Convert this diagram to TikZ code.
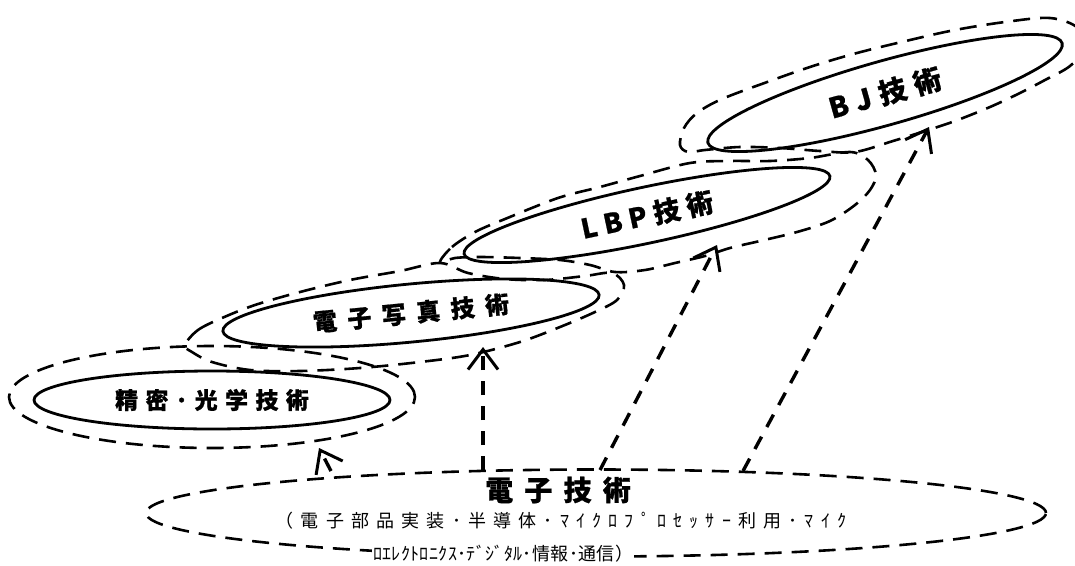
\documentclass[tikz,border=0pt]{standalone}
\usepackage{fontspec}
\newfontfamily\jpa{Noto Sans CJK JP}[LetterSpace=32,FakeBold=0.8]
\newfontfamily\jpb{Noto Sans CJK JP}[LetterSpace=44,FakeBold=0.8]
\newfontfamily\jpc{Noto Sans CJK JP}[LetterSpace=25,FakeBold=0.8]
\newfontfamily\jpd{Noto Sans CJK JP}[LetterSpace=29,FakeBold=0.8]
\newfontfamily\jpe{Noto Sans CJK JP}[LetterSpace=40,FakeBold=0.8]
\newfontfamily\jpf{Noto Sans CJK JP}[LetterSpace=40]
\newfontfamily\jpg{Noto Sans CJK JP}[LetterSpace=2]
\usetikzlibrary{shapes.geometric,arrows.meta}
\begin{document}
\begin{tikzpicture}[x=1pt,y=-1pt,
  solidell/.style={ellipse,draw,line width=2.8pt,inner sep=0pt},
  outerell/.style={ellipse,draw,line width=2.6pt,dash pattern=on 17pt off 10pt,inner sep=0pt},
  outerloop/.style={draw,line width=2.6pt,dash pattern=on 17pt off 10pt},
  arr/.style={line width=3.4pt,dash pattern=on 14pt off 11pt,
    -{Straight Barb[length=20pt,width=30pt,line width=3pt]}},
  lbl/.style={inner sep=0pt,font=\bfseries}]
\useasboundingbox (0,0) rectangle (1075,565);
% base (electronics) loop
\node[outerell,minimum width=900,minimum height=87] (base) at (596,513) {};
% outer loops
\node[outerell,minimum width=406,minimum height=102] (o1) at (212,397) {};
\draw[outerloop] plot[smooth cycle,tension=0.55] coordinates {
  (185,345) (198,330) (222,318) (255,305) (300,292) (350,280) (400,271)
  (440,263) (468,273) (505,279) (545,280) (585,276) (612,273) (624,285)
  (617,300) (595,312) (560,327) (520,342) (470,355) (420,362) (360,368)
  (300,371) (250,370) (212,362) (192,352)};
\draw[outerloop] plot[smooth cycle,tension=0.55] coordinates {
  (440,262) (452,247) (475,232) (505,219) (558,198) (600,187) (640,176)
  (690,163) (730,161) (770,161) (810,158) (850,152) (868,160) (876,175)
  (870,190) (855,205) (830,221) (797,232) (760,241) (730,248) (705,256)
  (675,263) (645,270) (615,272) (590,265) (560,260) (520,258) (480,257)
  (455,258)};
\draw[outerloop] plot[smooth cycle,tension=0.55] coordinates {
  (680,145) (684,128) (697,113) (722,99) (770,81) (813,66) (857,53)
  (910,40) (955,30) (1005,22) (1050,18) (1078,28) (1084,48) (1070,66)
  (1045,80) (1020,93) (990,107) (955,121) (925,131) (893,141) (855,152)
  (820,151) (780,148) (740,147) (705,150) (688,152)};
% solid ellipses with labels
\node[solidell,minimum width=356,minimum height=58] (prec) at (212,400)
  {\fontsize{23pt}{23pt}\jpa\bfseries 精密･光学技術};
\node[solidell,rotate=5.5,minimum width=378,minimum height=58] (ephoto) at (411,313)
  {\fontsize{24pt}{24pt}\jpb\bfseries 電子写真技術};
\node[solidell,rotate=12,minimum width=374,minimum height=56] (lbp) at (647,215)
  {\fontsize{27pt}{27pt}\jpc\bfseries LBP技術};
\node[solidell,rotate=15.7,minimum width=368,minimum height=64] (bj) at (885,93)
  {\fontsize{28pt}{28pt}\jpd\bfseries BJ技術};
% base texts
\node[lbl] (title) at (558,490) {\fontsize{28pt}{28pt}\jpe\bfseries 電子技術};
\node[inner sep=0pt] (sub1) at (561,521) {\fontsize{18pt}{18pt}\jpf （電子部品実装･半導体･ﾏｲｸﾛﾌﾟﾛｾｯｻｰ利用･ﾏｲｸ};
\node[inner sep=1pt,fill=white,anchor=west] (sub2) at (372,554) {\fontsize{18pt}{18pt}\jpg ﾛｴﾚｸﾄﾛﾆｸｽ･ﾃﾞｼﾞﾀﾙ･情報･通信）};
% arrows
\coordinate (a1s) at (331,471); \coordinate (a1e) at (319,448);
\coordinate (a2s) at (483,470); \coordinate (a2e) at (483,347);
\coordinate (a3s) at (600,470); \coordinate (a3e) at (717,245);
\coordinate (a4s) at (743,471); \coordinate (a4e) at (929,127);
\draw[arr] (a1s) -- (a1e);
\draw[arr] (a2s) -- (a2e);
\draw[arr] (a3s) -- (a3e);
\draw[arr] (a4s) -- (a4e);
\end{tikzpicture}
\end{document}
